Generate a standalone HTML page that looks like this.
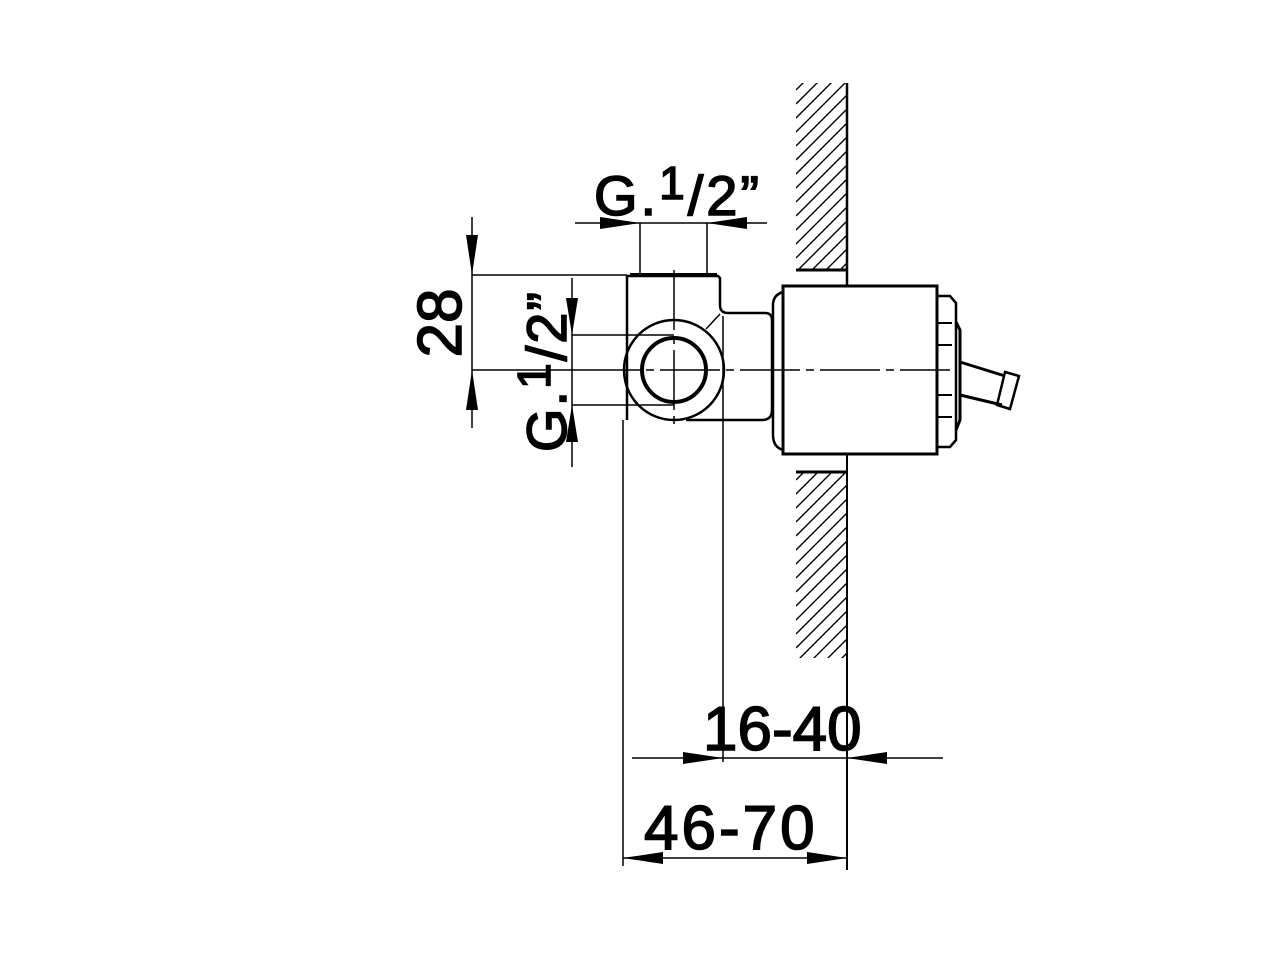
<!DOCTYPE html>
<html><head><meta charset="utf-8"><style>
html,body{margin:0;padding:0;background:#fff;}
svg{display:block;}
text{font-family:"Liberation Sans",sans-serif;fill:#000;stroke:#000;stroke-width:1.6;}
</style></head><body>
<svg width="1280" height="960" viewBox="0 0 1280 960" xmlns="http://www.w3.org/2000/svg">
<defs>
<clipPath id="w1"><rect x="796" y="83" width="51" height="187"/></clipPath>
<clipPath id="w2"><rect x="796" y="472" width="51" height="186"/></clipPath>
<g id="hatch" stroke="#000" stroke-width="1.4">
<path d="M796,60 L860,-4 M796,74 L860,10 M796,88 L860,24 M796,102 L860,38 M796,116 L860,52 M796,130 L860,66 M796,144 L860,80 M796,158 L860,94 M796,172 L860,108 M796,186 L860,122 M796,200 L860,136 M796,214 L860,150 M796,228 L860,164 M796,242 L860,178 M796,256 L860,192 M796,270 L860,206 M796,284 L860,220 M796,298 L860,234 M796,312 L860,248 M796,326 L860,262 M796,340 L860,276"/>
</g>
</defs>
<g clip-path="url(#w1)"><use href="#hatch" transform="translate(0,30)"/></g>
<g clip-path="url(#w2)"><use href="#hatch" transform="translate(0,420)"/></g>
<g stroke="#000" fill="none">
<line x1="847" y1="83" x2="847" y2="286" stroke-width="2.5"/>
<line x1="796" y1="270" x2="847" y2="270" stroke-width="3"/>
<line x1="847" y1="454" x2="847" y2="870" stroke-width="2"/>
<line x1="796" y1="472" x2="847" y2="472" stroke-width="3"/>
<path d="M627,420 L627,276 L718,276 L720,278 L720,305 Q720,313 728,313 L765,313 Q772,313 772,320 L772,410 Q772,420 762,420 L686,420" stroke-width="2.5"/>
<line x1="630" y1="275" x2="717" y2="275" stroke-width="4"/>
<line x1="706" y1="329" x2="720" y2="314" stroke-width="1.5"/>
<circle cx="674" cy="370" r="50" stroke-width="2.5"/>
<circle cx="674" cy="370" r="32" stroke-width="4"/>
<path d="M783,292 Q773,295 773,305 L773,435 Q773,447 783,450" stroke-width="2.5"/>
<rect x="783" y="286" width="154" height="168" stroke-width="3"/>
<path d="M937,296 L950,296 L956,303 L956,440 L950,447 L937,447" stroke-width="2.5"/>
<line x1="937" y1="323" x2="952" y2="323" stroke-width="2"/>
<line x1="937" y1="345" x2="952" y2="345" stroke-width="2"/>
<line x1="937" y1="395" x2="952" y2="395" stroke-width="2"/>
<line x1="937" y1="417" x2="952" y2="417" stroke-width="2"/>
<path d="M956,322 L960,330 L960,420 L956,430" stroke-width="3"/>
<path d="M960,362 L1005,376 M960,395 L1002,405" stroke-width="3"/>
<path d="M1005,372 L1019,376 L1010,409 L997,405 Z" stroke-width="2.5"/>
<line x1="580" y1="370" x2="950" y2="370" stroke-width="1.5" stroke-dasharray="60,6,8,6"/>
<line x1="674" y1="270" x2="674" y2="425" stroke-width="1.5" stroke-dasharray="60,6,8,6"/>
<g stroke-width="1.5">
<line x1="472" y1="217" x2="472" y2="428"/>
<line x1="472" y1="275" x2="627" y2="275"/>
<line x1="472" y1="370" x2="580" y2="370"/>
<line x1="575" y1="223" x2="767" y2="223"/>
<line x1="640" y1="223" x2="640" y2="275"/>
<line x1="707" y1="223" x2="707" y2="275"/>
<line x1="572" y1="278" x2="572" y2="467"/>
<line x1="572" y1="335" x2="674" y2="335"/>
<line x1="572" y1="405" x2="674" y2="405"/>
<line x1="723" y1="316" x2="723" y2="762"/>
<line x1="623" y1="420" x2="623" y2="866"/>
<line x1="632" y1="758" x2="943" y2="758"/>
<line x1="623" y1="858" x2="847" y2="858"/>
</g>
</g>
<g fill="#000">
<polygon points="472,275 466,235 478,235"/>
<polygon points="472,370 466,410 478,410"/>
<polygon points="640,223 600,217 600,229"/>
<polygon points="707,223 747,217 747,229"/>
<polygon points="572,335 566,298 578,298"/>
<polygon points="572,405 566,442 578,442"/>
<polygon points="723,758 683,752 683,764"/>
<polygon points="847,758 887,752 887,764"/>
<polygon points="623,858 663,852 663,864"/>
<polygon points="847,858 807,852 807,864"/>
</g>
<text x="594" y="215" font-size="56" letter-spacing="3">G.<tspan font-size="46" dy="-16">1</tspan><tspan dy="16">/2”</tspan></text>
<text transform="translate(461,323) rotate(-90)" x="0" y="0" font-size="62" text-anchor="middle">28</text>
<text transform="translate(566,452) rotate(-90)" x="0" y="0" font-size="56" letter-spacing="2">G.<tspan font-size="46" dy="-16">1</tspan><tspan dy="16">/2”</tspan></text>
<text x="703" y="750" font-size="62">16-40</text>
<text x="644" y="849" font-size="62" letter-spacing="3">46-70</text>
</svg>
</body></html>
